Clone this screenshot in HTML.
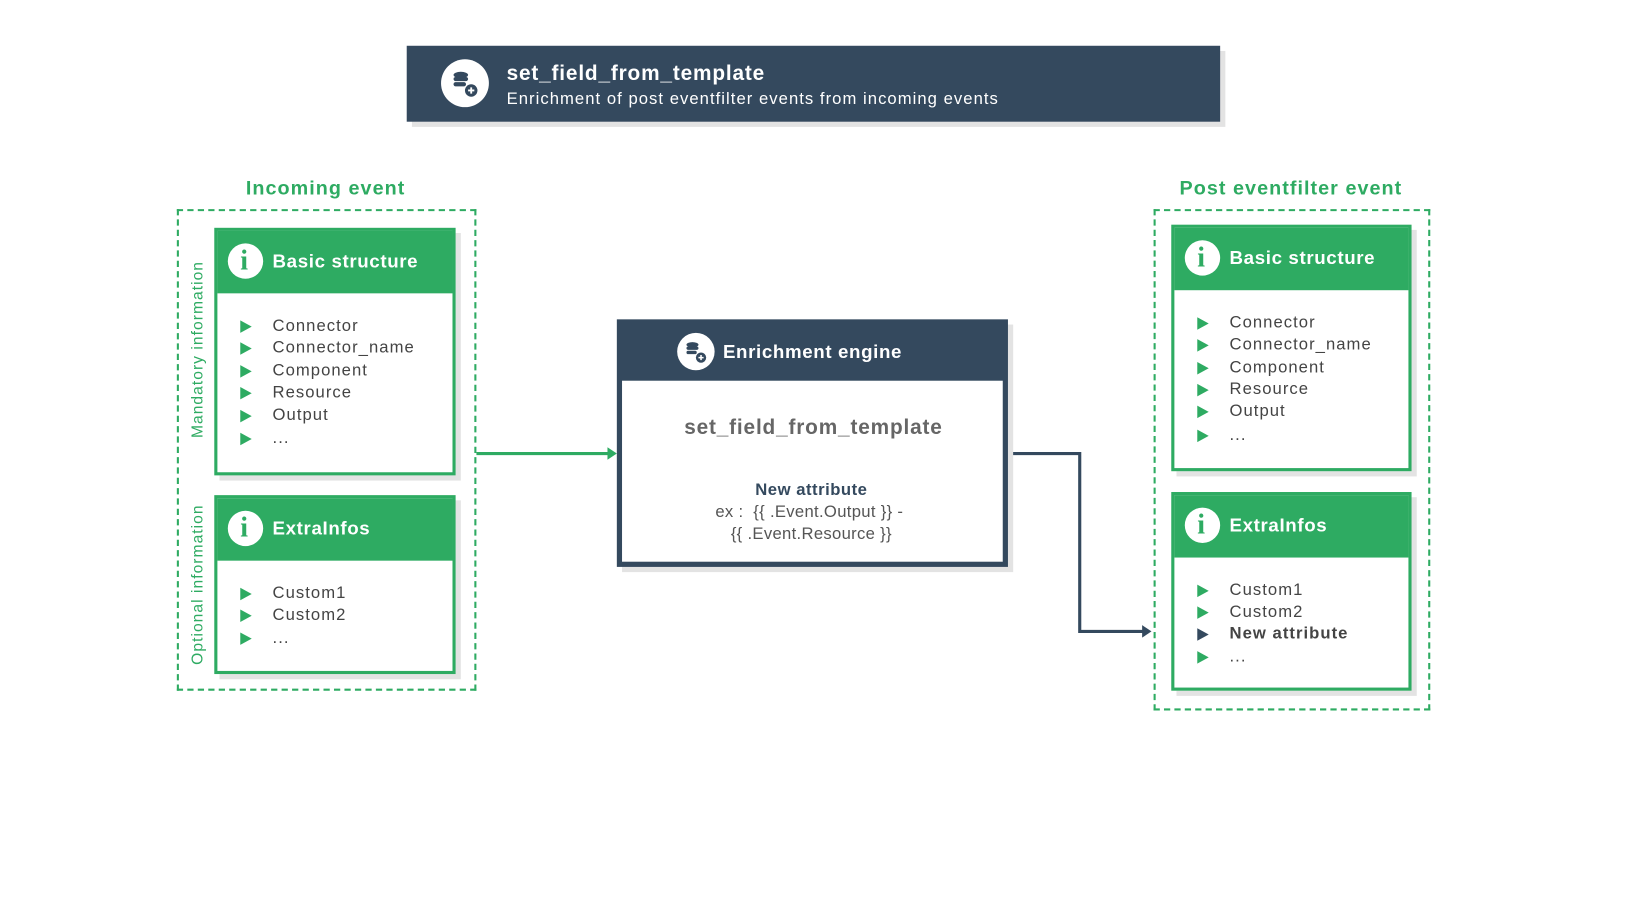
<!DOCTYPE html>
<html><head><meta charset="utf-8"><style>
html,body{margin:0;padding:0;background:#fff;width:1631px;height:900px;overflow:hidden;font-family:"Liberation Sans",sans-serif}
#w{position:absolute;left:0;top:0;width:1568px;height:865px;transform:scale(1.0402);transform-origin:0 0}
.a{position:absolute}
.sh{position:absolute;background:#e3e3e3}
.dark{background:#34495e}
.circ{position:absolute;border-radius:50%;background:#fff}
.t{position:absolute;white-space:nowrap}
.card{position:absolute;border:3px solid #2eab62;background:#fff;box-sizing:border-box}
.hdr{position:absolute;left:0;top:0;right:0;background:#2eab62}
.item{position:absolute;left:22px;font-size:16px;color:#444;letter-spacing:1px;white-space:nowrap;line-height:18px}
.item:before{content:"";position:absolute;left:0;top:3px;border-left:11px solid #2eab62;border-top:6px solid transparent;border-bottom:6px solid transparent}
.item.dk:before{border-left-color:#34495e}
.item span{position:absolute;left:31px;top:0}
.ht{position:absolute;left:53px;color:#fff;font-weight:bold;font-size:18px;letter-spacing:0.6px;white-space:nowrap}
.dash{position:absolute;border:2px dashed #2eab62;box-sizing:border-box}
.lbl{position:absolute;color:#2eab62;font-weight:bold;font-size:19px;letter-spacing:1px;white-space:nowrap;transform:translateX(-50%)}
.vt{position:absolute;color:#2eab62;font-size:15px;letter-spacing:1px;white-space:nowrap;transform:translate(-50%,-50%) rotate(-90deg)}
</style></head><body><div id="w">
<div class="sh" style="left:396px;top:49px;width:782px;height:73px"></div>
<div class="a dark" style="left:391px;top:44px;width:782px;height:73px"></div>
<div class="circ" style="left:424px;top:57px;width:46px;height:46px"></div>
<svg class="a" style="left:430px;top:63px" width="34" height="34" viewBox="0 0 34 34"><g fill="#34495e"><ellipse cx="13" cy="9" rx="7" ry="3"/><rect x="6" y="11" width="14" height="4" rx="2"/><rect x="6" y="16" width="12" height="4" rx="2"/><circle cx="23" cy="24" r="6"/></g><path d="M23 21v6M20 24h6" stroke="#fff" stroke-width="1.8"/></svg>
<div class="t" style="left:487px;top:60px;color:#fff;font-weight:bold;font-size:20px;letter-spacing:0.8px">set_field_from_template</div>
<div class="t" style="left:487px;top:87px;color:#fff;font-size:16px;letter-spacing:1px">Enrichment of post eventfilter events from incoming events</div>

<div class="lbl" style="left:313px;top:171px">Incoming event</div>
<div class="dash" style="left:170px;top:201px;width:288px;height:463px"></div>
<div class="vt" style="left:190px;top:336px">Mandatory information</div>
<div class="vt" style="left:190px;top:562px">Optional information</div>

<div class="sh" style="left:211px;top:224px;width:232px;height:238px"></div>
<div class="card" style="left:206px;top:219px;width:232px;height:238px">
 <div class="hdr" style="height:60px"></div>
 <div class="circ" style="left:10px;top:12px;width:34px;height:34px"></div>
 <div class="t" style="left:22px;top:13px;color:#2eab62;font-weight:bold;font-size:27px;font-family:'Liberation Serif',serif">i</div>
 <div class="ht" style="top:19px">Basic structure</div>
 <div class="item" style="top:83px"><span>Connector</span></div>
 <div class="item" style="top:104px"><span>Connector_name</span></div>
 <div class="item" style="top:126px"><span>Component</span></div>
 <div class="item" style="top:147px"><span>Resource</span></div>
 <div class="item" style="top:169px"><span>Output</span></div>
 <div class="item" style="top:191px"><span>...</span></div>
</div>
<div class="sh" style="left:211px;top:481px;width:232px;height:172px"></div>
<div class="card" style="left:206px;top:476px;width:232px;height:172px">
 <div class="hdr" style="height:60px"></div>
 <div class="circ" style="left:10px;top:12px;width:34px;height:34px"></div>
 <div class="t" style="left:22px;top:13px;color:#2eab62;font-weight:bold;font-size:27px;font-family:'Liberation Serif',serif">i</div>
 <div class="ht" style="top:19px">ExtraInfos</div>
 <div class="item" style="top:83px"><span>Custom1</span></div>
 <div class="item" style="top:104px"><span>Custom2</span></div>
 <div class="item" style="top:126px"><span>...</span></div>
</div>

<svg class="a" style="left:0;top:0" width="1568" height="865">
 <path d="M458 436H586" stroke="#2eab62" stroke-width="3" fill="none"/>
 <path d="M584 430L593 436L584 442Z" fill="#2eab62"/>
 <path d="M969 436H1038V607H1100" stroke="#34495e" stroke-width="3" fill="none"/>
 <path d="M1098 601L1107 607L1098 613Z" fill="#34495e"/>
</svg>

<div class="sh" style="left:598px;top:312px;width:376px;height:238px"></div>
<div class="a dark" style="left:593px;top:307px;width:376px;height:238px"></div>
<div class="a" style="left:598px;top:366px;width:366px;height:174px;background:#fff"></div>
<div class="circ" style="left:651px;top:320px;width:36px;height:36px"></div>
<svg class="a" style="left:655px;top:324px" width="28" height="28" viewBox="0 0 34 34"><g fill="#34495e"><ellipse cx="13" cy="9" rx="7" ry="3"/><rect x="6" y="11" width="14" height="4" rx="2"/><rect x="6" y="16" width="12" height="4" rx="2"/><circle cx="23" cy="24" r="6"/></g><path d="M23 21v6M20 24h6" stroke="#fff" stroke-width="1.8"/></svg>
<div class="t" style="left:695px;top:328px;color:#fff;font-weight:bold;font-size:18px;letter-spacing:0.6px">Enrichment engine</div>
<div class="t" style="left:782px;top:400px;transform:translateX(-50%);color:#666;font-weight:bold;font-size:20px;letter-spacing:0.8px">set_field_from_template</div>
<div class="t" style="left:780px;top:463px;transform:translateX(-50%);color:#34495e;font-weight:bold;font-size:16px;letter-spacing:0.5px">New attribute</div>
<div class="t" style="left:778px;top:484px;transform:translateX(-50%);color:#555;font-size:16px;letter-spacing:0.3px">ex :&nbsp; {{ .Event.Output }} -</div>
<div class="t" style="left:780px;top:505px;transform:translateX(-50%);color:#555;font-size:16px;letter-spacing:0.3px">{{ .Event.Resource }}</div>

<div class="lbl" style="left:1241px;top:171px">Post eventfilter event</div>
<div class="dash" style="left:1109px;top:201px;width:266px;height:482px"></div>
<div class="sh" style="left:1131px;top:221px;width:231px;height:237px"></div>
<div class="card" style="left:1126px;top:216px;width:231px;height:237px">
 <div class="hdr" style="height:60px"></div>
 <div class="circ" style="left:10px;top:12px;width:34px;height:34px"></div>
 <div class="t" style="left:22px;top:13px;color:#2eab62;font-weight:bold;font-size:27px;font-family:'Liberation Serif',serif">i</div>
 <div class="ht" style="top:19px">Basic structure</div>
 <div class="item" style="top:83px"><span>Connector</span></div>
 <div class="item" style="top:104px"><span>Connector_name</span></div>
 <div class="item" style="top:126px"><span>Component</span></div>
 <div class="item" style="top:147px"><span>Resource</span></div>
 <div class="item" style="top:168px"><span>Output</span></div>
 <div class="item" style="top:191px"><span>...</span></div>
</div>
<div class="sh" style="left:1131px;top:478px;width:231px;height:191px"></div>
<div class="card" style="left:1126px;top:473px;width:231px;height:191px">
 <div class="hdr" style="height:60px"></div>
 <div class="circ" style="left:10px;top:12px;width:34px;height:34px"></div>
 <div class="t" style="left:22px;top:13px;color:#2eab62;font-weight:bold;font-size:27px;font-family:'Liberation Serif',serif">i</div>
 <div class="ht" style="top:19px">ExtraInfos</div>
 <div class="item" style="top:83px"><span>Custom1</span></div>
 <div class="item" style="top:104px"><span>Custom2</span></div>
 <div class="item dk" style="top:125px;font-weight:bold;color:#444"><span>New attribute</span></div>
 <div class="item" style="top:147px"><span>...</span></div>
</div>
</div></body></html>
